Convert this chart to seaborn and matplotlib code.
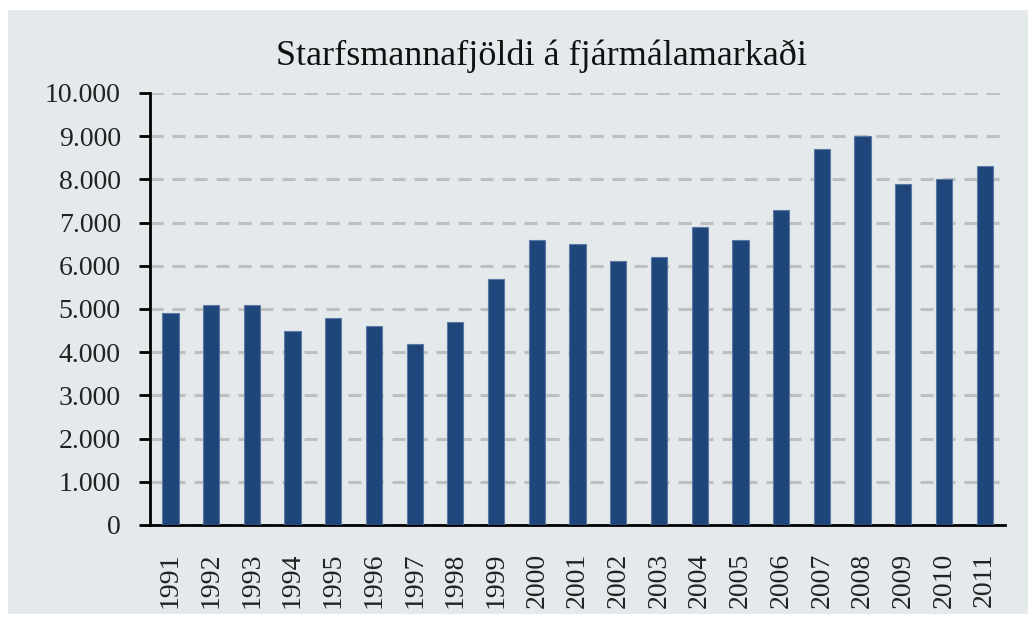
import matplotlib
matplotlib.use("Agg")
import matplotlib.pyplot as plt
import matplotlib.ticker as mticker
from matplotlib.patches import Rectangle
import seaborn as sns
import pandas as pd

years = [str(y) for y in range(1991, 2012)]
employees = [4900, 5100, 5100, 4500, 4800, 4600, 4200, 4700, 5700, 6600,
             6500, 6100, 6200, 6900, 6600, 7300, 8700, 9000, 7900, 8000, 8300]
title = "Starfsmannafjöldi á fjármálamarkaði"

bg = "#e4e9ec"
bar_color = "#1f467a"

sns.set_theme(style="white")
plt.rcParams["font.family"] = ["Liberation Serif", "DejaVu Serif"]

df = pd.DataFrame({"year": years, "employees": employees})

fig = plt.figure(figsize=(10.28, 6.24), dpi=100)
fig.patch.set_facecolor("white")
# gray panel behind the chart, white strip on top/left like the original
fig.patches.append(Rectangle((8 / 1028, 10 / 624), 1 - 8 / 1028, 1 - 20 / 624,
                             transform=fig.transFigure, facecolor=bg,
                             edgecolor="none", zorder=-1))

ax = fig.add_axes([150 / 1028, 1 - 525 / 624, (1005 - 150) / 1028, (525 - 93) / 624])
ax.set_facecolor(bg)

sns.barplot(data=df, x="year", y="employees", color=bar_color, width=0.4,
            edgecolor="#5b79a3", linewidth=0.8, saturation=1, ax=ax, zorder=3)

ax.set_xlim(-0.5, len(years) - 0.5)
ax.set_ylim(0, 10000)
ax.yaxis.set_major_locator(mticker.MultipleLocator(1000))
ax.yaxis.set_major_formatter(mticker.FuncFormatter(lambda v, p: f"{int(v):,}".replace(",", ".")))

ax.grid(axis="y", color="#bfbfbf", linestyle=(0, (4.3, 2.9)), linewidth=2.2, zorder=0)
ax.set_axisbelow(True)

for s in ["top", "right"]:
    ax.spines[s].set_visible(False)
for s in ["left", "bottom"]:
    ax.spines[s].set_color("black")
    ax.spines[s].set_linewidth(2)

# x ticks between categories
ax.set_xticks([i - 0.5 for i in range(len(years) + 1)], minor=True)
ax.tick_params(axis="x", which="minor", length=8, width=2, color="black", direction="out")
ax.tick_params(axis="x", which="major", length=0, labelsize=20, rotation=90, pad=20)
ax.tick_params(axis="y", which="major", length=8, width=2, color="black",
               direction="out", left=True, labelsize=20, pad=13)
for lbl in ax.get_yticklabels() + ax.get_xticklabels():
    lbl.set_color("#222222")

ax.set_xlabel("")
ax.set_ylabel("")
fig.text(541 / 1028, 1 - 56 / 624, title, ha="center", va="center",
         fontsize=26, color="#111111")

fig.savefig("out.png", dpi=100, facecolor=fig.get_facecolor())
